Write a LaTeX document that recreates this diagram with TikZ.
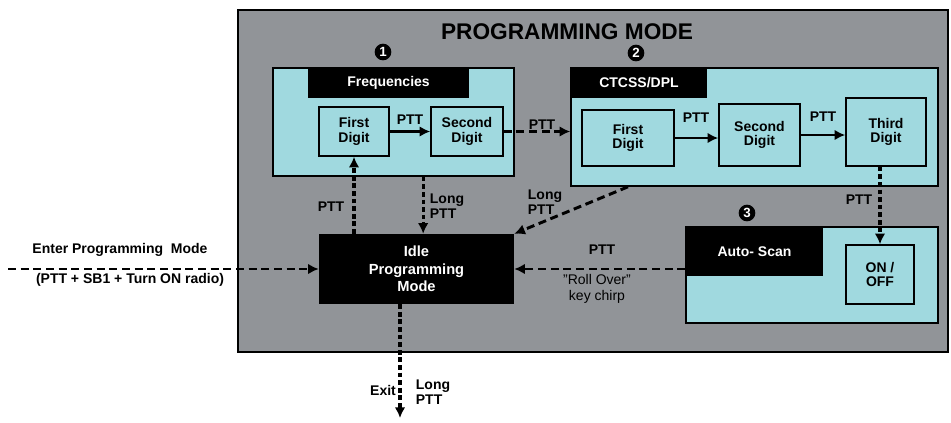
\documentclass[tikz,border=0pt]{standalone}
\usepackage{fontspec}
\setmainfont{Liberation Sans}
\usetikzlibrary{arrows.meta}
\definecolor{modegray}{RGB}{145,148,152}
\definecolor{panelcyan}{RGB}{160,217,223}
\begin{document}
\begin{tikzpicture}[x=0.75pt,y=-0.75pt,
		every node/.style={font=\fontsize{10.5}{11}\selectfont\bfseries},
		panel/.style={draw=black,line width=1.2pt,fill=panelcyan,inner sep=0pt},
		head/.style={fill=black,text=white,inner sep=0pt},
		digit/.style={draw=black,line width=1.2pt,fill=panelcyan,align=center,inner sep=0pt},
		num/.style={circle,fill=black,text=white,inner sep=0pt,minimum size=12.5pt,font=\fontsize{10}{10}\selectfont\bfseries},
		solid arrow/.style={line width=2.2pt,-{Latex[length=8pt,width=8pt]}},
		dash arrow/.style={line width=2.2pt,dash pattern=on 6pt off 3.5pt,-{Latex[length=8pt,width=8pt]}},
		dot arrow/.style={line width=2.4pt,dash pattern=on 3.5pt off 2.2pt,-{Latex[length=8pt,width=8pt]}}]
		\useasboundingbox (0,0) rectangle (951,422);
		\draw[fill=modegray,line width=1.5pt] (238,10) rectangle (948,352);
		\node[font=\fontsize{17}{17}\selectfont\bfseries] (title) at (567,32) {PROGRAMMING MODE};
		\node[panel,minimum width=180.75pt,minimum height=81pt] (freq) at (393.5,122) {};
		\node[head,minimum width=120.75pt,minimum height=22.5pt] (freqhead) at (388.5,83) {Frequencies};
		\node[digit,minimum width=52.5pt,minimum height=36.75pt] (ffirst) at (354,131.5) {First\\Digit};
		\node[digit,minimum width=54pt,minimum height=36.75pt] (fsecond) at (467,131.5) {Second\\Digit};
		\node[panel,minimum width=275.25pt,minimum height=88.5pt] (ctcss) at (754.5,127) {};
		\node[head,minimum width=102pt,minimum height=22.5pt] (ctcsshead) at (639,83) {CTCSS/DPL};
		\node[digit,minimum width=69pt,minimum height=42pt] (cfirst) at (628,138) {First\\Digit};
		\node[digit,minimum width=60.75pt,minimum height=46.5pt] (csecond) at (759.5,135) {Second\\Digit};
		\node[digit,minimum width=60pt,minimum height=51pt] (cthird) at (886,132) {Third\\Digit};
		\node[panel,minimum width=189pt,minimum height=72pt] (auto) at (812,275) {};
		\node[head,minimum width=102.75pt,minimum height=36.75pt] (autohead) at (754.5,251.5) {Auto- Scan};
		\node[digit,minimum width=51pt,minimum height=44.25pt] (onoff) at (880,274.5) {ON /\\OFF};
		\node[head,align=center,minimum width=146.25pt,minimum height=52.5pt,font=\fontsize{11}{13}\selectfont\bfseries] (idle) at (416.5,269) {Idle\\Programming\\Mode};
		\node[num] (one) at (383,52) {1};
		\node[num] (two) at (636,53) {2};
		\node[num] (three) at (747,213) {3};
		\coordinate (enter) at (8,269);
		\coordinate (exit) at (400,418);
		\draw[solid arrow] (ffirst.east) to (fsecond.west);
		\draw[dash arrow] (fsecond.east) to (fsecond.east -| ctcss.west);
		\draw[solid arrow] (cfirst.east) to (cfirst.east -| csecond.west);
		\draw[solid arrow] (csecond.east) to (csecond.east -| cthird.west);
		\draw[dot arrow] (onoff.north |- cthird.south) to (onoff.north);
		\draw[dot arrow] (ffirst.south |- idle.north) to (ffirst.south);
		\draw[dot arrow] ([xshift=5pt]idle.north |- freq.south) to ([xshift=5pt]idle.north);
		\draw[dash arrow] (cfirst.south |- ctcss.south) to (idle.north east);
		\draw[dash arrow] (idle.east -| auto.west) to (idle.east);
		\draw[dash arrow] (enter) to (idle.west);
		\draw[dot arrow] (exit |- idle.south) to (exit);
		\node (lbla) at (410,120) {PTT};
		\node (lblb) at (542,125) {PTT};
		\node (lblc) at (696,118) {PTT};
		\node (lbld) at (823,117) {PTT};
		\node (lble) at (859,200) {PTT};
		\node[align=left] (lblf) at (545,202) {Long\\PTT};
		\node (lblg) at (331,207) {PTT};
		\node[align=left] (lblh) at (447,206) {Long\\PTT};
		\node (lbli) at (602,250) {PTT};
		\node[align=center,font=\fontsize{10.5}{12}\selectfont] (lblj) at (597,289) {"Roll Over"\\key chirp};
		\node (lblk) at (120,250) {Enter Programming\ \ Mode};
		\node (lbll) at (130,280) {(PTT + SB1 + Turn ON radio)};
		\node (lblm) at (383,390) {Exit};
		\node[align=left] (lbln) at (433,392) {Long\\PTT};
\end{tikzpicture}
\end{document}
